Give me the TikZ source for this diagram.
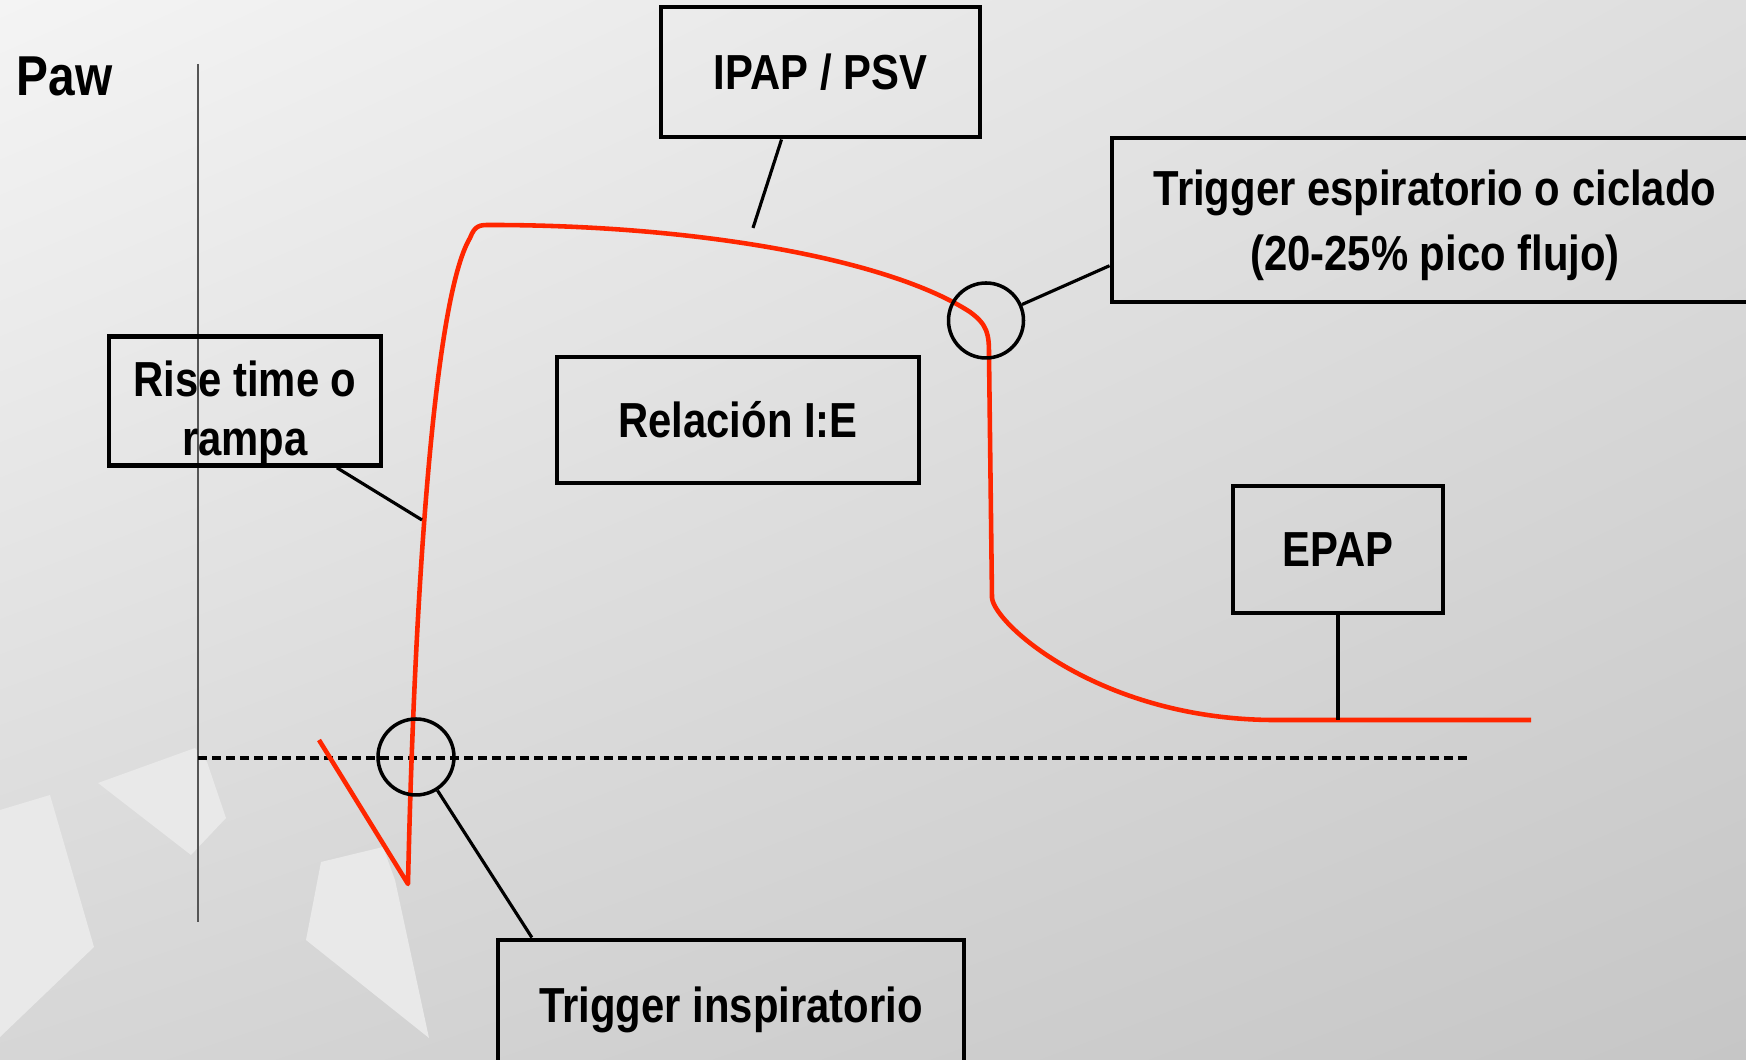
\documentclass[tikz,border=0pt]{standalone}
\usepackage{fontspec}
\setmainfont{Liberation Sans}[FakeStretch=0.85]
\usepackage{tikz}
\usetikzlibrary{shadings}
\definecolor{curvered}{RGB}{255,38,0}
\definecolor{axisgray}{RGB}{85,85,85}
\definecolor{bgtopleft}{RGB}{244,244,244}
\definecolor{bgtopright}{RGB}{222,222,222}
\definecolor{bgbotleft}{RGB}{214,214,214}
\definecolor{bgbotright}{RGB}{198,198,198}
\definecolor{bgshape}{RGB}{233,233,233}
\tikzset{
  tagbox/.style={draw=black, line width=1.4pt, align=center, inner sep=0pt, font=\fontsize{14}{17.5}\selectfont\bfseries},
  ring/.style={draw=black, line width=1pt, circle, inner sep=0pt, minimum size=0.76cm},
  leader/.style={draw=black, line width=0.9pt}
}

\begin{document}
\begin{tikzpicture}
  \clip (0,0) rectangle (17.46,10.60);
  \shade[upper left=bgtopleft, upper right=bgtopright, lower left=bgbotleft, lower right=bgbotright] (0,0) rectangle (17.46,10.60);
  % faint shapes in the background
  \fill[bgshape] (0,2.50) -- (0.50,2.65) -- (0.94,1.13) -- (0,0.23) -- cycle;
  \fill[bgshape] (0.98,2.77) -- (1.95,3.12) -- (2.07,2.98) -- (2.26,2.42) -- (1.91,2.05) -- cycle;
  \fill[bgshape] (3.21,1.98) -- (3.83,2.13) -- (3.95,1.80) -- (4.29,0.22) -- (3.06,1.20) -- cycle;

  % axis and baseline
  \node[anchor=base west, font=\fontsize{16}{19}\selectfont\bfseries, inner sep=0pt] (paw) at (0.16,9.64) {Paw};
  \draw[axisgray, line width=0.7pt] (1.98,9.96) -- (1.98,1.38);
  \draw[black, line width=1pt, dash pattern=on 0.09cm off 0.05cm] (1.98,3.02) -- (14.70,3.02);

  % pressure curve
  \draw[curvered, line width=1.3pt, line join=round]
    (3.19,3.20) -- (4.08,1.76)
    .. controls (4.14,4.5) and (4.33,7.6) .. (4.70,8.22)
    .. controls (4.75,8.35) and (4.80,8.35) .. (4.90,8.35)
    .. controls (7.0,8.35) and (8.9,8.0) .. (9.70,7.48)
    .. controls (9.88,7.35) and (9.89,7.25) .. (9.89,7.05)
    -- (9.92,4.62)
    .. controls (9.95,4.35) and (11.0,3.42) .. (12.7,3.40)
    -- (15.31,3.40);

  % labels
  \node[tagbox, minimum width=3.19cm, minimum height=1.30cm] (ipap) at (8.205,9.88) {IPAP / PSV};
  \node[tagbox, font=\fontsize{14}{18.4}\selectfont\bfseries, minimum width=6.46cm, minimum height=1.64cm] (ciclado) at (14.35,8.40) {\rule{0pt}{13pt}Trigger espiratorio o ciclado\\(20-25\% pico flujo)};
  \node[tagbox, font=\fontsize{14}{16.7}\selectfont\bfseries, minimum width=2.72cm, minimum height=1.28cm] (rampa) at (2.45,6.59) {\rule{0pt}{17pt}Rise time o\\rampa};
  \node[tagbox, minimum width=3.62cm, minimum height=1.26cm] (relacion) at (7.38,6.40) {Relación I:E};
  \node[tagbox, minimum width=2.10cm, minimum height=1.27cm] (epap) at (13.38,5.105) {EPAP};
  \node[tagbox, minimum width=4.66cm, minimum height=1.40cm] (trigins) at (7.31,0.50) {Trigger inspiratorio};

  \node[ring] (trigcirc) at (4.16,3.03) {};
  \node[ring, minimum size=0.75cm] (cyccirc) at (9.86,7.395) {};

  \coordinate (ipapPt) at (7.53,8.32);
  \coordinate (rampaPt) at (4.22,5.40);
  \coordinate (epapPt) at (13.38,3.40);

  \draw[leader] (ipap.240) -- (ipapPt);
  \draw[leader] (rampa.324) -- (rampaPt);
  \draw[leader] (cyccirc) -- (ciclado.188.5);
  \draw[leader] (trigcirc) -- (trigins.160.7);
  \draw[leader] (epap.south) -- (epapPt);
\end{tikzpicture}
\end{document}
